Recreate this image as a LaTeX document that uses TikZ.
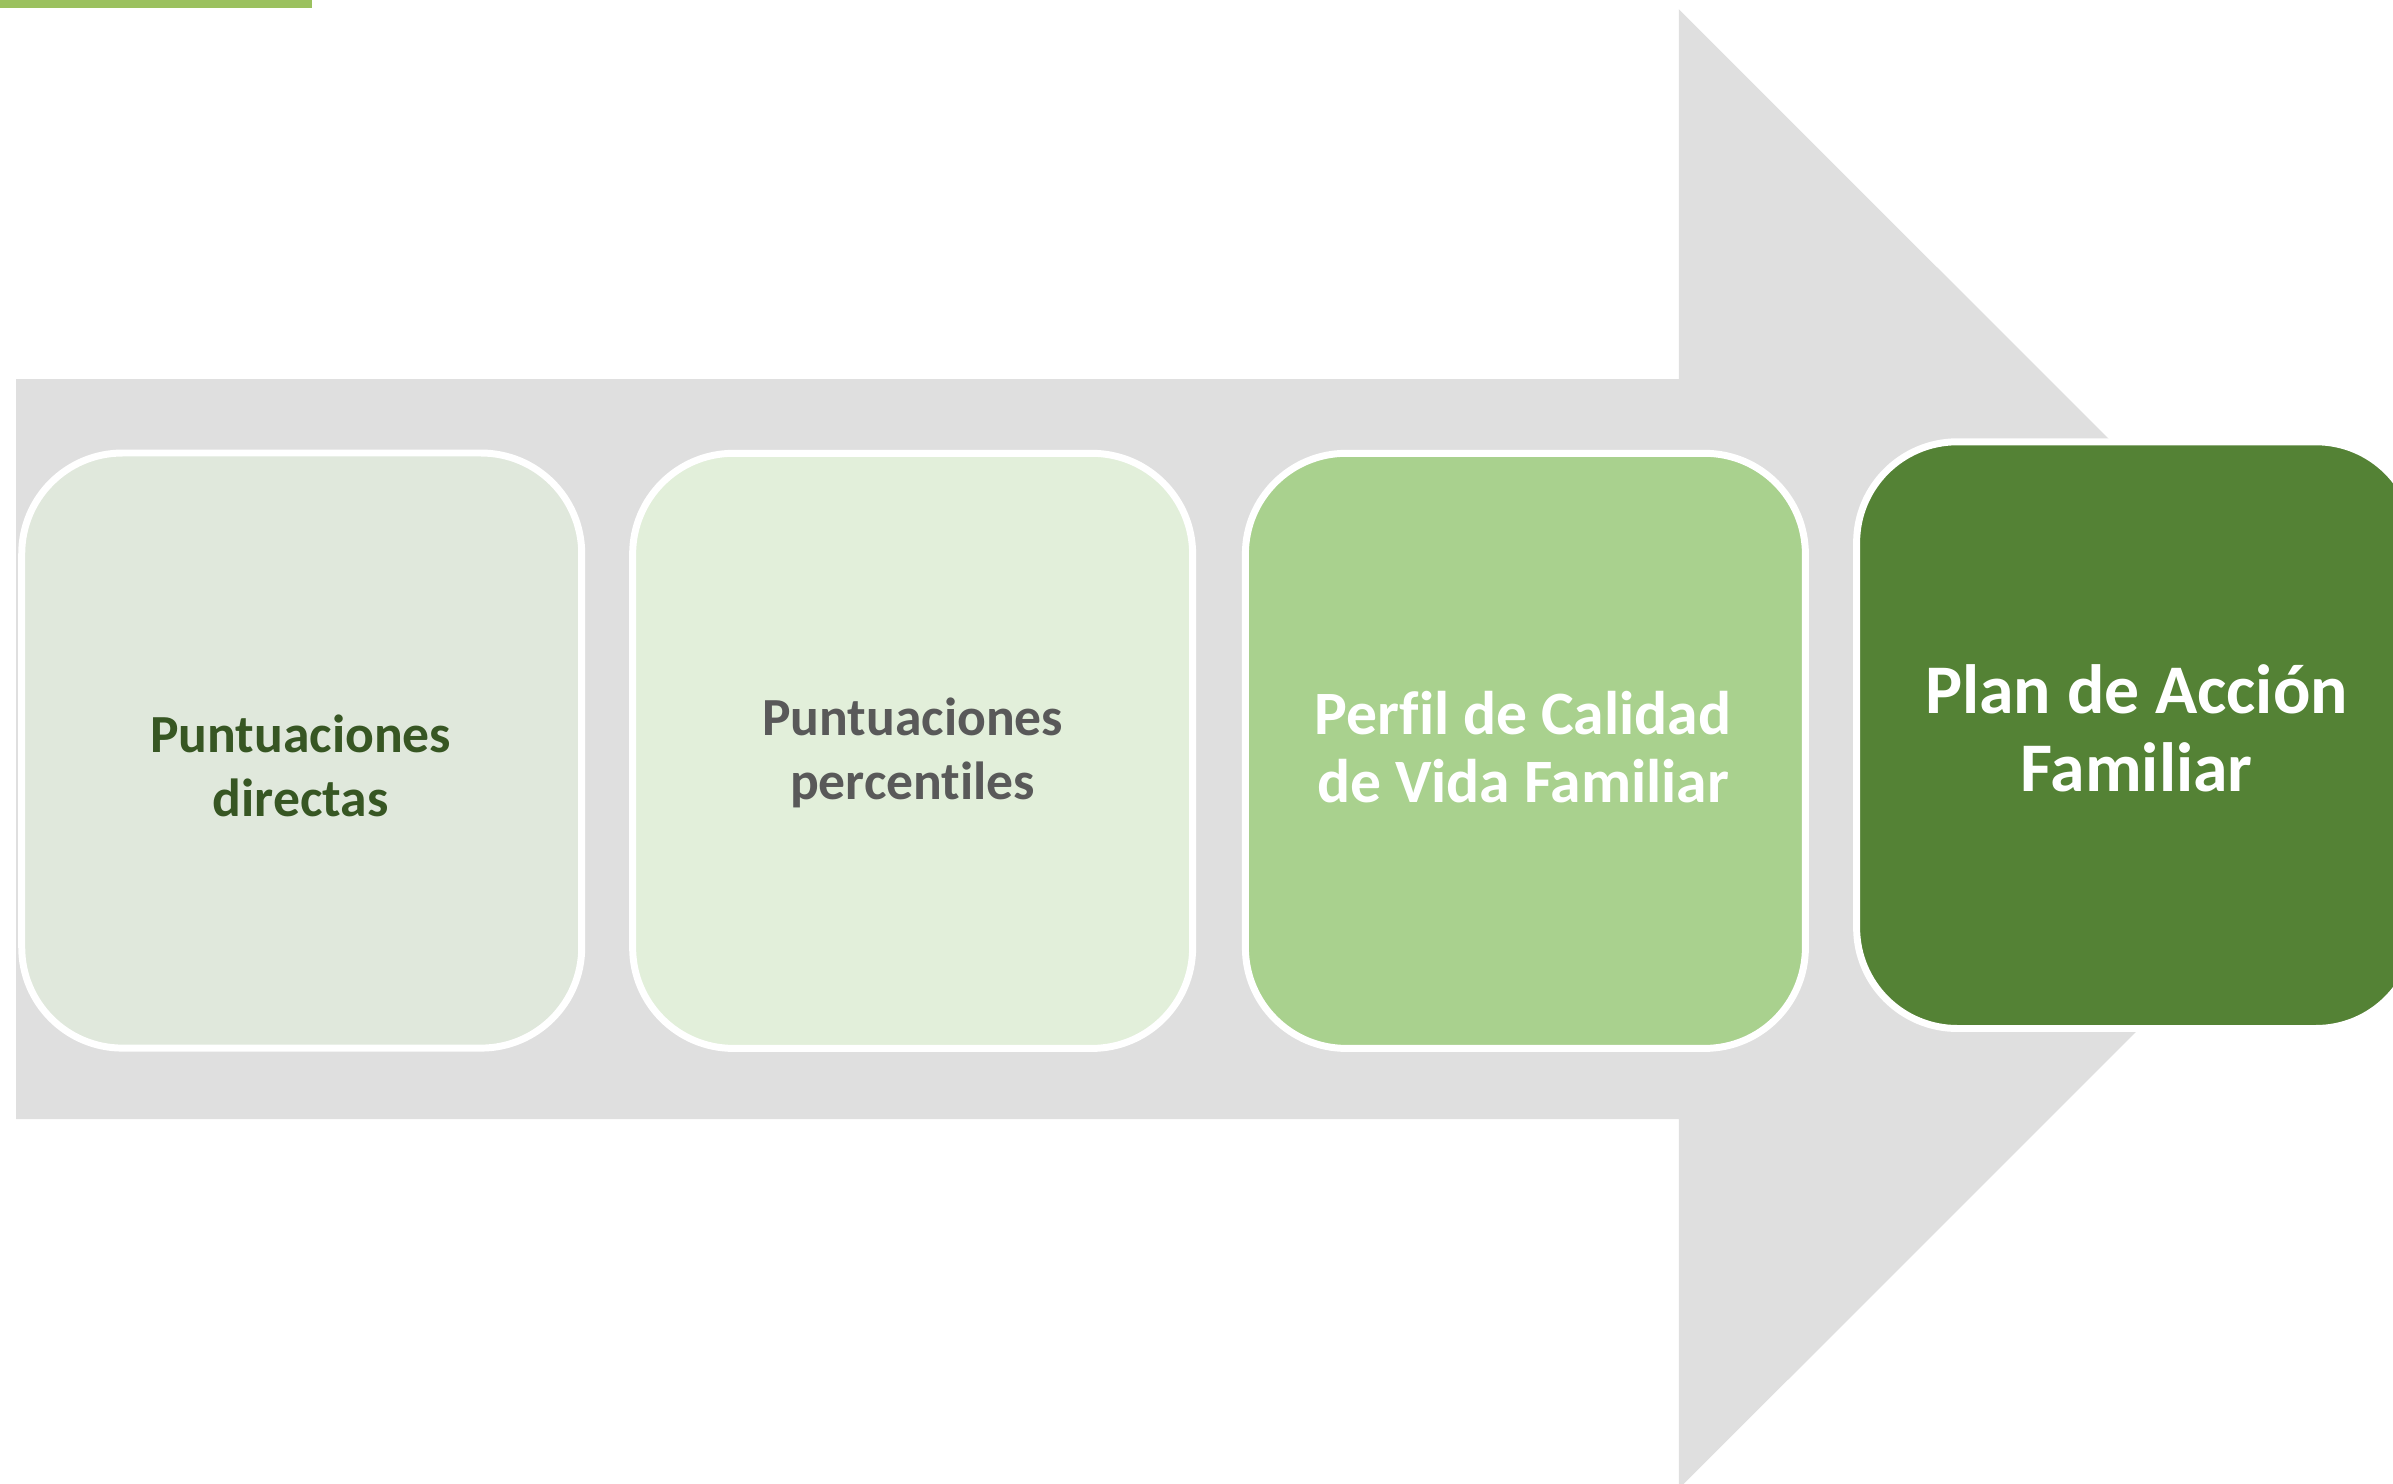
\documentclass[tikz,border=0pt]{standalone}
\usepackage{fontspec}
\setmainfont{Carlito}[Ligatures={NoCommon}]
\definecolor{arrowgray}{RGB}{223,223,223}
\definecolor{barGreen}{RGB}{155,193,95}
\definecolor{fillA}{RGB}{224,232,220}
\definecolor{fillB}{RGB}{226,239,218}
\definecolor{fillC}{RGB}{169,209,142}
\definecolor{fillD}{RGB}{84,130,53}
\definecolor{txtA}{RGB}{55,86,35}
\definecolor{txtB}{RGB}{89,89,89}
\tikzset{
  stepbox/.style={rectangle, draw=white, line width=2.6pt, rounded corners=1.32cm,
    inner sep=0pt, minimum width=7.34cm, minimum height=7.8cm},
  steptext/.style={align=center, inner sep=0pt, font=\bfseries}
}
\begin{document}
\begin{tikzpicture}[x=0.02cm,y=-0.02cm]
\useasboundingbox (0,0) rectangle (1568,972);
\clip (0,0) rectangle (1568,972);
% top-left green bar
\fill[barGreen] (0,0) rectangle (204.5,5.4);
% big gray arrow
\fill[arrowgray] (10.5,248.4) -- (1100,248.4) -- (1100,6) -- (1585,490.8)
  -- (1100,975.6) -- (1100,733.3) -- (10.5,733.3) -- cycle;
% step boxes
\node[stepbox, fill=fillA] (b1) at (197.7,491.8) {};
\node[stepbox, fill=fillB] (b2) at (598,492) {};
\node[stepbox, fill=fillC] (b3) at (999.5,492) {};
\node[stepbox, fill=fillD, minimum height=7.69cm] (b4) at (1400,481.7) {};
% texts
\node[steptext, text=txtA, font=\bfseries\fontsize{20}{24}\selectfont] (t1) at (197,502) {Puntuaciones\\directas};
\node[steptext, text=txtB, font=\bfseries\fontsize{20}{24}\selectfont] (t2) at (598,493.5) {Puntuaciones\\percentiles};
\node[steptext, text=white, font=\bfseries\fontsize{23}{25.5}\selectfont] (t3) at (998,489.5) {Perfil de Calidad\\de Vida Familiar};
\node[steptext, text=white, font=\bfseries\fontsize{26}{29}\selectfont] (t4) at (1400,477) {Plan de Acción\\Familiar};
\end{tikzpicture}
\end{document}
